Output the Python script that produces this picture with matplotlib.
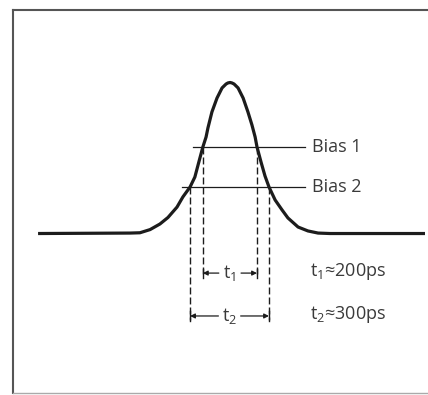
import matplotlib.pyplot as plt

plt.rcParams['font.family'] = ['Open Sans', 'DejaVu Sans']
plt.rcParams['mathtext.default'] = 'regular'

# pulse shape (time in ps, amplitude normalised to peak)
pulse_t = [-716, -371, -334, -296, -259, -229, -195, -173, -146, -128, -113,
           -98, -86, -79, -64, -45, -26, -11, -4, 4, 11, 19, 34, 53, 71, 86,
           98, 105, 120, 135, 150, 173, 199, 221, 259, 296, 334, 379, 735]
pulse_v = [0.0, 0.003, 0.005, 0.026, 0.063, 0.106, 0.175, 0.242, 0.308,
           0.374, 0.474, 0.573, 0.639, 0.699, 0.805, 0.897, 0.964, 0.99,
           0.997, 1.0, 0.997, 0.99, 0.964, 0.897, 0.805, 0.719, 0.639, 0.573,
           0.474, 0.381, 0.308, 0.222, 0.156, 0.103, 0.043, 0.017, 0.003,
           0.0, 0.0]

bias_labels = ["Bias 1", "Bias 2"]
bias_levels = [0.573, 0.311]
bias_start = [-135, -176]

# pulse width at each bias level
width_labels = ["t$_1$", "t$_2$"]
width_values = [200, 300]
width_edges = [(-98, 105), (-146, 150)]
width_rows = [-0.262, -0.546]

ink = "#1c1c1c"
txt = "#3a3a3a"

fig = plt.figure(figsize=(4.28, 3.95), dpi=100)
ax = fig.add_axes([13 / 428, 2 / 395, 1.0, 383 / 395])
ax.set_xlim(-810, -810 + 428 * 3.75)
ax.set_ylim(-1.056, 1.480)
ax.set_xticks([])
ax.set_yticks([])
ax.spines["right"].set_visible(False)
ax.spines["left"].set_color("#555555")
ax.spines["top"].set_color("#555555")
ax.spines["left"].set_linewidth(1.5)
ax.spines["top"].set_linewidth(1.5)
ax.spines["bottom"].set_color("#aaaaaa")
ax.spines["bottom"].set_linewidth(1)

ax.plot(pulse_t, pulse_v, color=ink, lw=2.3, solid_joinstyle="round",
        solid_capstyle="butt", zorder=3)

for lab, lvl, x0 in zip(bias_labels, bias_levels, bias_start):
    ax.plot([x0, 285], [lvl, lvl], color=ink, lw=0.9, zorder=2)
    ax.text(311, lvl, lab, fontsize=13, color=txt, va="center", ha="left")

for i, (lab, val, (xa, xb), row) in enumerate(zip(width_labels, width_values,
                                                  width_edges, width_rows)):
    lvl = bias_levels[i]
    for xe in (xa, xb):
        ax.plot([xe, xe], [lvl, row - 0.025], color=ink, lw=1.0,
                dashes=(5, 2.2), zorder=2)
        ax.plot([xe, xe], [row - 0.03, row + 0.03], color=ink, lw=1.0)
    mid = (xa + xb) / 2
    ax.text(mid, row, lab, fontsize=13, color=txt, ha="center", va="center")
    for xe in (xa, xb):
        ax.annotate("", xy=(xe, row), xytext=(mid, row),
                    arrowprops=dict(arrowstyle="-|>", color=ink, lw=0.9,
                                    mutation_scale=7, shrinkA=8, shrinkB=0))
    ax.text(304, row + 0.01, f"{lab}≈{val}ps", fontsize=13, color=txt,
            ha="left", va="center")

fig.savefig("out.png", dpi=100)
